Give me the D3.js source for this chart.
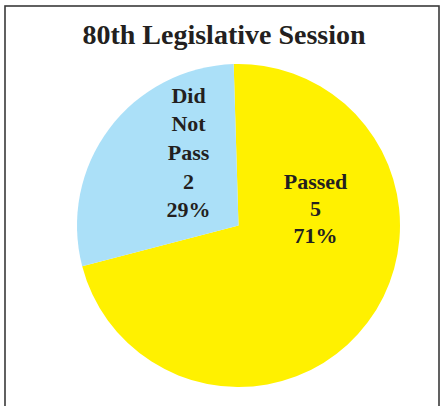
<!DOCTYPE html>
<html><head><meta charset="utf-8">
<script src="https://cdn.jsdelivr.net/npm/d3@7"></script>
<style>body{margin:0;background:#fff;}svg{display:block;}</style>
</head><body>
<svg id="c" width="440" height="406"></svg>
<script>
const categories = ["Passed", "Did Not Pass"];
const counts = [5, 2];
const percents = ["71%", "29%"];
const colors = ["#fff100", "#abe0f8"];
const title = "80th Legislative Session";

const svg = d3.select("#c");
svg.append("rect").attr("x",5).attr("y",6).attr("width",434).attr("height",420)
  .attr("fill","none").attr("stroke","#3a3a3a").attr("stroke-width",1.6);

svg.append("text").attr("x",224).attr("y",44).attr("text-anchor","middle")
  .attr("font-family","Liberation Serif, serif").attr("font-weight","bold")
  .attr("font-size",28).attr("fill","#231f20").text(title);

const cx = 238.5, cy = 225.5, r = 161.5;
const data = categories.map((c,i)=>({cat:c, value:counts[i], pct:percents[i], color:colors[i]}));
const pie = d3.pie().sort(null).value(d=>d.value).startAngle(-0.03).endAngle(2*Math.PI-0.03);
const arc = d3.arc().innerRadius(0).outerRadius(r);
const g = svg.append("g").attr("transform",`translate(${cx},${cy})`);
g.selectAll("path").data(pie(data)).join("path").attr("d",arc).attr("fill",d=>d.data.color);

const labelPos = [[77,-37],[-50,-123]];
const lineH = [27,28.7];
const fs = [22,22];
pie(data).forEach((d,i)=>{
  const lines = d.data.cat==="Did Not Pass" ? ["Did","Not","Pass"] : [d.data.cat];
  lines.push(String(d.data.value), d.data.pct);
  const t = g.append("text").attr("text-anchor","middle")
    .attr("font-family","Liberation Serif, serif").attr("font-weight","bold")
    .attr("font-size",fs[i]).attr("fill","#231f20");
  lines.forEach((l,j)=>t.append("tspan").attr("x",labelPos[i][0]).attr("y",labelPos[i][1]+j*lineH[i]).text(l));
});
</script>
</body></html>
